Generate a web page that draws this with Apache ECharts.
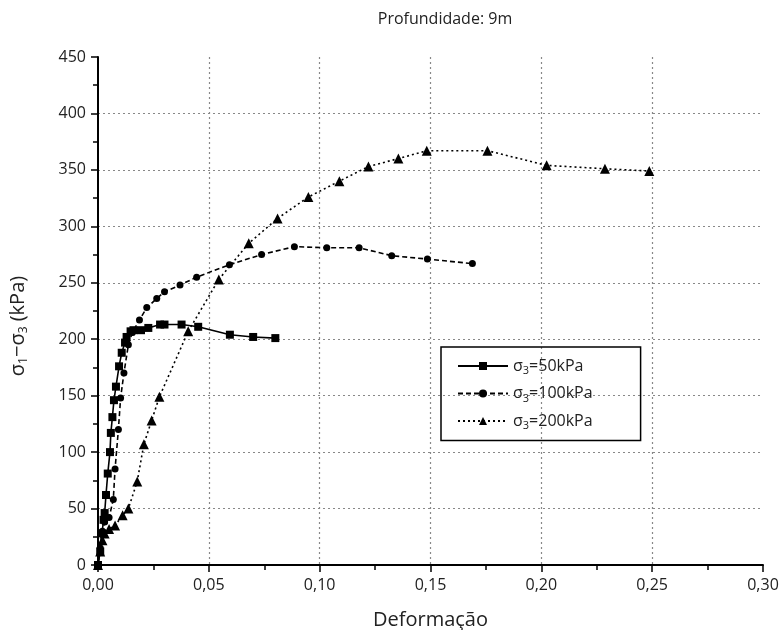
<!DOCTYPE html>
<html>
<head>
    <meta charset="utf-8">
    <title>Profundidade 9m</title>
    <script src="https://cdn.jsdelivr.net/npm/echarts@6/dist/echarts.min.js"></script>
</head>
<body style="margin:0">
<div id="chart" style="width: 780px;height:630px;"></div>

<script>
    // [deformação, σ1-σ3 (kPa)]
    var names = ['σ3=50kPa', 'σ3=100kPa', 'σ3=200kPa'];
    var s50 = [[0,0],[0.001,12],[0.0018,28],[0.0025,40],[0.003,46],[0.0036,62],[0.0044,81],[0.0054,100],[0.0058,117],
        [0.0065,131],[0.0072,146],[0.0081,158],[0.0095,176],[0.0107,188],[0.0122,197],[0.0129,202],[0.0147,207],
        [0.016,208],[0.0194,208],[0.0227,210],[0.028,213],[0.030,213],[0.0377,213],[0.0452,211],[0.0595,204],
        [0.070,202],[0.080,201]];
    var s100 = [[0,0],[0.001,15],[0.002,30],[0.003,38],[0.005,42],[0.0069,58],[0.0077,85],[0.0092,120],[0.0102,148],
        [0.0117,170],[0.0137,195],[0.0155,206],[0.0187,217],[0.022,228],[0.0265,236],[0.030,242],[0.037,248],
        [0.0445,255],[0.0593,266],[0.0738,275],[0.0886,282],[0.1032,281],[0.1178,281],[0.1325,274],[0.1486,271],
        [0.1689,267]];
    var s200 = [[0,0],[0.001,12],[0.002,22],[0.003,28],[0.005,32],[0.0077,35],[0.0111,44],[0.0137,50],[0.0177,74],
        [0.0207,107],[0.0242,128],[0.0277,149],[0.0407,207],[0.0545,253],[0.068,285],[0.081,307],[0.0949,326],
        [0.1089,340],[0.122,353],[0.1355,360],[0.1483,367],[0.1757,367],[0.2024,354],[0.2287,351],[0.2487,349]];

    var font = 'Open Sans';
    var grid = {type: [2, 3], color: '#888', width: 1.2};

    var option = {
        backgroundColor: '#fff',
        textStyle: {fontFamily: font, color: '#222'},
        title: {
            text: 'Profundidade: 9m',
            left: 440, top: 6, textAlign: 'center',
            textStyle: {fontSize: 16, fontWeight: 'normal', color: '#222', fontFamily: font}
        },
        grid: {left: 98, right: 17, top: 57, bottom: 65, outerBoundsMode: 'none'},
        legend: {
            orient: 'vertical',
            left: 441, top: 347,
            padding: [11, 48, 9, 16],
            itemWidth: 50, itemHeight: 10, itemGap: 9,
            borderColor: '#000', borderWidth: 1.5,
            data: names,
            formatter: function (n) {
                return '{a|σ}{s|3}{a|' + n.slice(2) + '}';
            },
            textStyle: {
                rich: {
                    a: {fontSize: 16, fontFamily: font, color: '#222'},
                    s: {fontSize: 11, fontFamily: font, color: '#222', padding: [10, 0, 0, 0]}
                }
            }
        },
        xAxis: {
            type: 'value', min: 0, max: 0.30, interval: 0.05,
            name: 'Deformação', nameLocation: 'middle', nameGap: 45,
            nameTextStyle: {fontSize: 20, color: '#222'},
            axisLine: {lineStyle: {color: '#000', width: 2}},
            axisTick: {length: 7, lineStyle: {color: '#000', width: 1.5}},
            minorTick: {show: true, splitNumber: 2, length: 5, lineStyle: {color: '#000', width: 1.5}},
            axisLabel: {fontSize: 16, color: '#222', margin: 12, formatter: function (v) { return v.toFixed(2).replace('.', ','); }},
            splitLine: {show: true, showMinLine: false, showMaxLine: false, lineStyle: grid}
        },
        yAxis: {
            type: 'value', min: 0, max: 450, interval: 50,
            name: '{a|σ}{s|1}{a|−σ}{s|3}{a| (kPa)}', nameLocation: 'middle', nameGap: 68,
            nameTextStyle: {
                padding: [0, 0, 0, -30],
                rich: {
                    a: {fontSize: 20, fontFamily: font, color: '#222'},
                    s: {fontSize: 12, fontFamily: font, color: '#222', padding: [12, 0, 0, 0]}
                }
            },
            axisLine: {show: true, lineStyle: {color: '#000', width: 2}},
            axisTick: {show: true, length: 7, lineStyle: {color: '#000', width: 1.5}},
            minorTick: {show: true, splitNumber: 2, length: 5, lineStyle: {color: '#000', width: 1.5}},
            axisLabel: {fontSize: 16, color: '#222', margin: 12},
            splitLine: {show: true, showMinLine: false, showMaxLine: false, lineStyle: grid}
        },
        series: [{
            name: names[0], type: 'line', data: s50,
            symbol: 'rect', symbolSize: 8,
            itemStyle: {color: '#000'},
            lineStyle: {color: '#000', width: 1.6, type: 'solid'}
        }, {
            name: names[1], type: 'line', data: s100,
            symbol: 'circle', symbolSize: 7,
            itemStyle: {color: '#000'},
            lineStyle: {color: '#000', width: 1.6, type: [5, 3]}
        }, {
            name: names[2], type: 'line', data: s200,
            symbol: 'triangle', symbolSize: 10,
            itemStyle: {color: '#000'},
            lineStyle: {color: '#000', width: 1.6, type: [2, 3]}
        }],
        animation: false
    };

    echarts.init(document.getElementById('chart')).setOption(option);
</script>
</body>
</html>
